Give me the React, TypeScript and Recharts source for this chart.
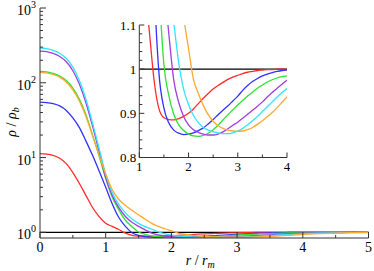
import { LineChart, Line, XAxis, YAxis, ReferenceLine } from "recharts";

const SERIF = "'Liberation Serif', 'Times New Roman', 'DejaVu Serif', serif";
const FRAME = "#333";

// radial position r / r_m
const radius = [
  0, 0.1, 0.2, 0.3, 0.4, 0.5, 0.6, 0.7, 0.8, 0.9,
  1.0, 1.1, 1.2, 1.3, 1.4, 1.5, 1.6, 1.7, 1.8, 1.9,
  2.0, 2.1, 2.2, 2.3, 2.4, 2.5, 2.6, 2.7, 2.8, 2.9,
  3.0, 3.1, 3.2, 3.3, 3.4, 3.5, 3.6, 3.7, 3.8, 3.9,
  4.0, 4.25, 4.5, 4.75, 5.0,
];

// rho / rho_b for each curve
const red = [
  11.3, 11.15, 10.7, 9.8, 8.3, 6.3, 4.5, 3.1, 2.15, 1.62,
  1.32, 1.2, 1.09, 0.975, 0.91, 0.89, 0.886, 0.885, 0.888, 0.893,
  0.9, 0.91, 0.922, 0.934, 0.945, 0.955, 0.963, 0.97, 0.977, 0.982,
  0.986, 0.99, 0.993, 0.995, 0.997, 0.998, 0.999, 0.999, 1.0, 1.0,
  1.0, 1.0, 1.0, 1.0, 1.0,
];
const blue = [
  55, 54.3, 52.5, 49, 42.7, 33.9, 25.1, 16.6, 10.7, 6.6,
  4.0, 2.4, 1.58, 1.2, 0.99, 0.912, 0.878, 0.862, 0.855, 0.852,
  0.853, 0.856, 0.861, 0.867, 0.876, 0.886, 0.897, 0.907, 0.917, 0.928,
  0.939, 0.952, 0.963, 0.972, 0.979, 0.985, 0.989, 0.992, 0.995, 0.997,
  0.998, 0.999, 1.0, 1.0, 1.0,
];
const green = [
  142, 139.6, 133.4, 123, 107, 85, 60, 37.2, 20, 10.5,
  5.25, 2.95, 2.0, 1.45, 1.19, 1.01, 0.94, 0.898, 0.874, 0.861,
  0.853, 0.849, 0.848, 0.85, 0.855, 0.863, 0.873, 0.885, 0.897, 0.908,
  0.919, 0.929, 0.939, 0.948, 0.957, 0.964, 0.971, 0.976, 0.98, 0.983,
  0.985, 0.991, 0.995, 0.998, 0.999,
];
const purple = [
  265, 261, 247, 225, 191, 145, 95.5, 53.7, 26.3, 12.0,
  5.4, 3.1, 2.14, 1.63, 1.36, 1.2, 1.08, 0.975, 0.925, 0.893,
  0.874, 0.863, 0.857, 0.853, 0.851, 0.851, 0.853, 0.858, 0.865, 0.873,
  0.88, 0.889, 0.898, 0.907, 0.916, 0.926, 0.937, 0.947, 0.957, 0.966,
  0.975, 0.986, 0.993, 0.997, 0.999,
];
const cyan = [
  292, 287, 272, 248, 211, 162, 107, 60, 28.8, 13.2,
  6.0, 3.39, 2.34, 1.82, 1.51, 1.32, 1.19, 1.105, 1.015, 0.955,
  0.92, 0.895, 0.879, 0.868, 0.862, 0.858, 0.856, 0.854, 0.854, 0.856,
  0.86, 0.866, 0.874, 0.883, 0.893, 0.904, 0.915, 0.926, 0.937, 0.947,
  0.956, 0.974, 0.986, 0.993, 0.997,
];
const orange = [
  138, 135.8, 129.4, 118.9, 102.3, 80.4, 56.9, 35.5, 19.5, 10.7,
  6.03, 3.72, 2.75, 2.29, 1.97, 1.72, 1.5, 1.32, 1.2, 1.117,
  1.047, 0.977, 0.945, 0.918, 0.897, 0.882, 0.872, 0.866, 0.862, 0.86,
  0.859, 0.86, 0.863, 0.868, 0.875, 0.883, 0.892, 0.902, 0.913, 0.925,
  0.937, 0.962, 0.979, 0.99, 0.995,
];

const series = [
  { key: "red", color: "#ff2b2b" },
  { key: "blue", color: "#3030ff" },
  { key: "green", color: "#2ee22e" },
  { key: "purple", color: "#a03ee0" },
  { key: "cyan", color: "#2ee6ff" },
  { key: "orange", color: "#ffa82e" },
];

const data = radius.map((r, i) => ({
  r,
  red: red[i],
  blue: blue[i],
  green: green[i],
  purple: purple[i],
  cyan: cyan[i],
  orange: orange[i],
}));

// main axes ticks
const mainXTicks = [0, 0.5, 1, 1.5, 2, 2.5, 3, 3.5, 4, 4.5, 5];
const mainYMajor = [1, 10, 100, 1000];
const mainYTicks = [
  1, 2, 3, 4, 5, 6, 7, 8, 9,
  10, 20, 30, 40, 50, 60, 70, 80, 90,
  100, 200, 300, 400, 500, 600, 700, 800, 900, 1000,
];

// inset axes ticks
const insetXTicks = [1, 1.5, 2, 2.5, 3, 3.5, 4];
const insetYMajor = [0.8, 0.9, 1, 1.1];
const insetYTicks = [
  0.8, 0.82, 0.84, 0.86, 0.88, 0.9, 0.92, 0.94, 0.96, 0.98,
  1, 1.02, 1.04, 1.06, 1.08, 1.1,
];

const isInt = (v: number) => Math.abs(v - Math.round(v)) < 1e-9;
const serifStyle = { fontFamily: SERIF };

const MainXTick = ({ x, y, payload, top }: any) => {
  const major = isInt(payload.value);
  const len = major ? 6 : 3;
  return (
    <g>
      <line x1={x} x2={x} y1={y} y2={top ? y + len : y - len} stroke={FRAME} />
      {!top && major && (
        <text x={x} y={y + 14} textAnchor="middle" fontSize={14} style={serifStyle} fill="#000">
          {payload.value}
        </text>
      )}
    </g>
  );
};

const MainYTick = ({ x, y, payload, right }: any) => {
  const v = payload.value;
  const major = mainYMajor.includes(v);
  const len = major ? 6 : 3;
  return (
    <g>
      <line x1={x} x2={right ? x - len : x + len} y1={y} y2={y} stroke={FRAME} />
      {!right && major && (
        <text x={x - 4} y={y + 7} textAnchor="end" fontSize={14} style={serifStyle} fill="#000">
          10
          <tspan fontSize={10} dy={-7}>
            {Math.round(Math.log10(v))}
          </tspan>
        </text>
      )}
    </g>
  );
};

const InsetXTick = ({ x, y, payload, top }: any) => {
  const major = isInt(payload.value);
  const len = major ? 5 : 3;
  return (
    <g>
      <line x1={x} x2={x} y1={y} y2={top ? y + len : y - len} stroke={FRAME} />
      {!top && major && (
        <text x={x} y={y + 13} textAnchor="middle" fontSize={13} style={serifStyle} fill="#000">
          {payload.value}
        </text>
      )}
    </g>
  );
};

const InsetYTick = ({ x, y, payload, right }: any) => {
  const v = payload.value;
  const major = insetYMajor.some((m) => Math.abs(m - v) < 1e-9);
  const len = major ? 5 : 3;
  return (
    <g>
      <line x1={x} x2={right ? x - len : x + len} y1={y} y2={y} stroke={FRAME} />
      {!right && major && (
        <text x={x - 3} y={y + 4.5} textAnchor="end" fontSize={13} style={serifStyle} fill="#000">
          {String(v)}
        </text>
      )}
    </g>
  );
};

const XTitle = ({ viewBox }: any) => (
  <text
    x={viewBox.x + viewBox.width / 2 - 4}
    y={viewBox.y + 27}
    textAnchor="middle"
    fontSize={14}
    style={serifStyle}
    fill="#000"
  >
    <tspan fontStyle="italic">r</tspan>
    <tspan> / </tspan>
    <tspan fontStyle="italic">r</tspan>
    <tspan fontStyle="italic" fontSize={10} dy={3}>m</tspan>
  </text>
);

const YTitle = ({ viewBox }: any) => (
  <text
    transform={`translate(${viewBox.x + 16},${viewBox.y + 114}) rotate(-90)`}
    textAnchor="middle"
    fontSize={14}
    style={serifStyle}
    fill="#000"
  >
    <tspan fontStyle="italic">ρ</tspan>
    <tspan> / </tspan>
    <tspan fontStyle="italic">ρ</tspan>
    <tspan fontStyle="italic" fontSize={10} dy={3}>b</tspan>
  </text>
);

export default function App() {
  return (
    <div style={{ position: "absolute", left: 0, top: 0, width: 374, height: 271, background: "#fff" }}>
      <LineChart width={374} height={271} data={data} margin={{ top: 8, right: 5.5, bottom: 0, left: 0 }}>
        <XAxis
          xAxisId="b"
          dataKey="r"
          type="number"
          domain={[0, 5]}
          ticks={mainXTicks}
          interval={0}
          tickSize={0}
          tickMargin={0}
          height={33}
          allowDataOverflow
          axisLine={{ stroke: FRAME }}
          tick={<MainXTick />}
          label={<XTitle />}
        />
        <XAxis
          xAxisId="t"
          orientation="top"
          type="number"
          domain={[0, 5]}
          ticks={mainXTicks}
          interval={0}
          tickSize={0}
          tickMargin={0}
          height={0}
          allowDataOverflow
          axisLine={{ stroke: FRAME }}
          tick={<MainXTick top />}
        />
        <YAxis
          yAxisId="l"
          type="number"
          scale="log"
          domain={[0.84, 1000]}
          ticks={mainYTicks}
          interval={0}
          tickSize={0}
          tickMargin={0}
          width={40}
          allowDataOverflow
          axisLine={{ stroke: FRAME }}
          tick={<MainYTick />}
          label={<YTitle />}
        />
        <YAxis
          yAxisId="r"
          orientation="right"
          type="number"
          scale="log"
          domain={[0.84, 1000]}
          ticks={mainYTicks}
          interval={0}
          tickSize={0}
          tickMargin={0}
          width={0}
          allowDataOverflow
          axisLine={{ stroke: FRAME }}
          tick={<MainYTick right />}
        />
        <ReferenceLine xAxisId="b" yAxisId="l" y={1} stroke="#000" strokeWidth={1.2} />
        {series.map((s) => (
          <Line
            key={s.key}
            xAxisId="b"
            yAxisId="l"
            dataKey={s.key}
            type="monotone"
            stroke={s.color}
            strokeWidth={1.3}
            dot={false}
            isAnimationActive={false}
          />
        ))}
      </LineChart>

      <div style={{ position: "absolute", left: 110, top: 15 }}>
        <LineChart width={180} height={160} data={data} margin={{ top: 10, right: 3, bottom: 0, left: 0 }}>
          <XAxis
            xAxisId="b"
            dataKey="r"
            type="number"
            domain={[1, 4]}
            ticks={insetXTicks}
            interval={0}
            tickSize={0}
            tickMargin={0}
            height={17.5}
            allowDataOverflow
            axisLine={{ stroke: FRAME }}
            tick={<InsetXTick />}
          />
          <XAxis
            xAxisId="t"
            orientation="top"
            type="number"
            domain={[1, 4]}
            ticks={insetXTicks}
            interval={0}
            tickSize={0}
            tickMargin={0}
            height={0}
            allowDataOverflow
            axisLine={{ stroke: FRAME }}
            tick={<InsetXTick top />}
          />
          <YAxis
            yAxisId="l"
            type="number"
            domain={[0.8, 1.1]}
            ticks={insetYTicks}
            interval={0}
            tickSize={0}
            tickMargin={0}
            width={29.3}
            allowDataOverflow
            axisLine={{ stroke: FRAME }}
            tick={<InsetYTick />}
          />
          <YAxis
            yAxisId="r"
            orientation="right"
            type="number"
            domain={[0.8, 1.1]}
            ticks={insetYTicks}
            interval={0}
            tickSize={0}
            tickMargin={0}
            width={0}
            allowDataOverflow
            axisLine={{ stroke: FRAME }}
            tick={<InsetYTick right />}
          />
          <ReferenceLine xAxisId="b" yAxisId="l" y={1} stroke="#000" strokeWidth={1.2} />
          {series.map((s) => (
            <Line
              key={s.key}
              xAxisId="b"
              yAxisId="l"
              dataKey={s.key}
              type="monotone"
              stroke={s.color}
              strokeWidth={1.3}
              dot={false}
              isAnimationActive={false}
            />
          ))}
        </LineChart>
      </div>
    </div>
  );
}
